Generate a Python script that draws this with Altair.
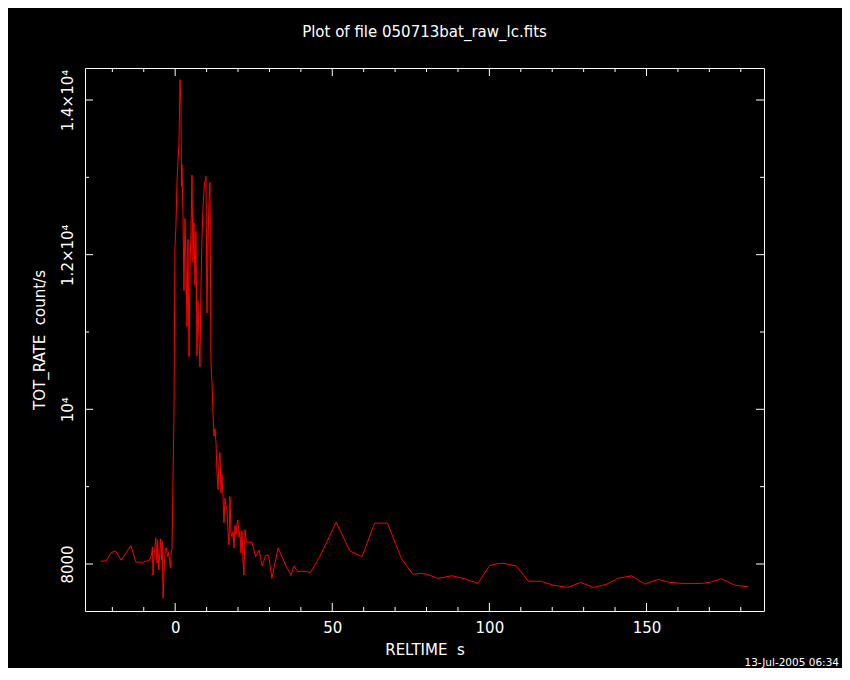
import altair as alt
import pandas as pd

# ---------------- data ----------------
reltime = [
    -23.74, -21.89, -20.52, -18.96, -17.20, -14.08, -12.52, -10.28, -8.13, -7.55,
    -7.25, -7.06, -6.86, -6.57, -6.18, -5.79, -5.60, -5.21, -4.62, -4.33,
    -4.13, -3.84, -3.55, -3.16, -2.86, -2.38, -2.08, -1.50, -1.21, -1.01,
    -0.82, -0.62, -0.38, -0.07,
    0.25, 0.57, 0.89, 1.21, 1.53, 1.85, 2.00, 2.16, 2.48, 2.80,
    3.12, 3.44, 3.76, 4.07, 4.39, 4.71, 5.03, 5.35, 5.67, 5.98,
    6.30, 6.62, 6.94, 7.26, 7.58, 7.89, 8.21, 8.53, 8.85, 9.17,
    9.48, 9.80, 10.12, 10.44, 10.76, 11.08, 11.39, 11.71, 12.03, 12.35,
    12.67, 12.99, 13.30, 13.62, 13.94, 14.26, 14.58, 14.90, 15.21, 15.53,
    15.85, 16.17, 16.49, 16.81, 17.12, 17.44, 17.76, 18.08, 18.40, 18.72,
    19.03, 19.35, 19.67, 19.99, 20.31, 20.62, 20.94, 21.26, 21.58, 21.90,
    22.22, 22.66,
    24.45, 25.62, 26.69, 27.67, 28.84, 29.72, 30.79, 32.74, 35.38, 36.84,
    37.81, 38.89, 41.13, 43.08, 46.01, 51.27, 55.57, 59.47, 63.47, 67.57,
    71.96, 75.66, 77.81, 79.86, 83.66, 88.05, 92.15, 96.34, 100.05, 102.10,
    104.34, 106.00, 108.63, 112.34, 116.54, 120.24, 125.02, 129.02, 133.02, 137.22,
    140.92, 145.21, 149.41, 153.70, 157.41, 161.61, 167.46, 170.09, 173.80, 178.09,
    182.29,
]
tot_rate = [
    8035, 8040, 8143, 8169, 8052, 8238, 8026, 8022, 8052, 8117,
    8221, 7857, 8052, 8150, 8338, 8013, 8312, 7922, 8325, 8052,
    8290, 7558, 7922, 8182, 8208, 8095, 8147, 7948, 8182, 8182,
    8727, 9300, 9935, 12100,
    12380, 12922, 13204, 13441, 14264, 13939, 12883, 13160, 12532, 11536,
    12467, 11900, 11069, 12200, 10680, 11800, 12300, 13030, 11900, 12416,
    11600, 12300, 10688, 11400, 10900, 10550, 11600, 12208, 12600, 12835,
    12948, 13013, 11247, 12104, 12700, 12935, 10606, 10355, 9957, 9653,
    9750, 9571, 9199, 8961, 9312, 9441, 8922, 9156, 8874, 8532,
    8850, 8760, 8700, 8419, 8247, 8874, 8400, 8350, 8420, 8208,
    8500, 8380, 8510, 8571, 8350, 8420, 8143, 8430, 8052, 7857,
    8442, 8282,
    8282, 8095, 8182, 7974, 8113, 8113, 7814, 8208, 7965, 7857,
    7974, 7905, 7905, 7892, 8095, 8541, 8169, 8095, 8528, 8528,
    8074, 7866, 7879, 7870, 7814, 7848, 7809, 7749, 7978, 8000,
    8009, 7995, 7974, 7779, 7775, 7727, 7697, 7762, 7697, 7736,
    7814, 7848, 7740, 7801, 7762, 7749, 7749, 7762, 7809, 7727,
    7705,
]

x_major = [0, 50, 100, 150]
x_minor = [-20, -10, 10, 20, 30, 40, 60, 70, 80, 90, 110, 120, 130, 140, 160, 170, 180]
y_major = [8000, 10000, 12000, 14000]
y_minor = [9000, 11000, 13000]

title_text = "Plot of file 050713bat_raw_lc.fits"
x_title = "RELTIME\u00a0\u00a0s"
y_title = "TOT_RATE\u00a0\u00a0count/s"
date_text = "13-Jul-2005 06:34"

# ---------------- layout ----------------
W, H = 679, 543
FONT = "DejaVu Sans"
MAJ, MIN = 8, 4

df = pd.DataFrame({"t": reltime, "rate": tot_rate})
xs = alt.Scale(domain=[-28.7, 187.4], nice=False, zero=False)
ys = alt.Scale(domain=[7392, 14414], nice=False, zero=False)

x_axis = alt.Axis(
    values=x_major, ticks=False, domain=False, grid=False,
    labelColor="white", labelFont=FONT, labelFontSize=15, labelPadding=9,
    labelOverlap=False, labelFlush=False,
    title=x_title, titleColor="white", titleFont=FONT, titleFontSize=15,
    titleFontWeight="normal", titleY=31, titleBaseline="top",
)
y_axis = alt.Axis(
    values=y_major, ticks=False, domain=False, grid=False,
    labelExpr="datum.value == 8000 ? '8000' : datum.value == 10000 ? '10\u2074' : "
              "datum.value == 12000 ? '1.2\u00d710\u2074' : '1.4\u00d710\u2074'",
    labelAngle=270, labelAlign="center", labelBaseline="bottom", labelPadding=10,
    labelColor="white", labelFont=FONT, labelFontSize=15,
    labelOverlap=False, labelFlush=False,
    title=y_title, titleColor="white", titleFont=FONT, titleFontSize=15,
    titleFontWeight="normal", titleAngle=270, titleX=-38, titleY=H / 2,
    titleAlign="center", titleBaseline="bottom",
)

line = alt.Chart(df).mark_line(color="#ff0000", strokeWidth=1).encode(
    x=alt.X("t:Q", scale=xs, axis=x_axis),
    y=alt.Y("rate:Q", scale=ys, axis=y_axis),
)

def xticks(vals, length, top):
    d = pd.DataFrame({"t": vals})
    if top:
        yv, y2v = 0, length
    else:
        yv, y2v = H, H - length
    return alt.Chart(d).mark_rule(color="white", strokeWidth=1).encode(
        x=alt.X("t:Q", scale=xs), y=alt.value(yv), y2=alt.value(y2v))

def yticks(vals, length, left):
    d = pd.DataFrame({"rate": vals})
    if left:
        xv, x2v = 0, length
    else:
        xv, x2v = W, W - length
    return alt.Chart(d).mark_rule(color="white", strokeWidth=1).encode(
        y=alt.Y("rate:Q", scale=ys), x=alt.value(xv), x2=alt.value(x2v))

ticks = [
    xticks(x_major, MAJ, False), xticks(x_minor, MIN, False),
    xticks(x_major, MAJ, True), xticks(x_minor, MIN, True),
    yticks(y_major, MAJ, True), yticks(y_minor, MIN, True),
    yticks(y_major, MAJ, False), yticks(y_minor, MIN, False),
]

date = alt.Chart(pd.DataFrame({"s": [date_text]})).mark_text(
    align="right", baseline="alphabetic", color="white", font=FONT, fontSize=10.5,
).encode(x=alt.value(754), y=alt.value(598), text="s:N")

chart = alt.layer(line, *ticks, date).properties(
    width=W, height=H,
    title=alt.TitleParams(title_text, color="white", font=FONT, fontSize=15,
                          fontWeight="normal", anchor="middle", offset=28),
    autosize=alt.AutoSizeParams(type="none"),
    padding={"left": 77, "top": 60, "right": 78, "bottom": 57},
).configure(background="black").configure_view(stroke="white", strokeWidth=1)

chart.save("out.html", embed_options={"renderer": "svg", "actions": False})
